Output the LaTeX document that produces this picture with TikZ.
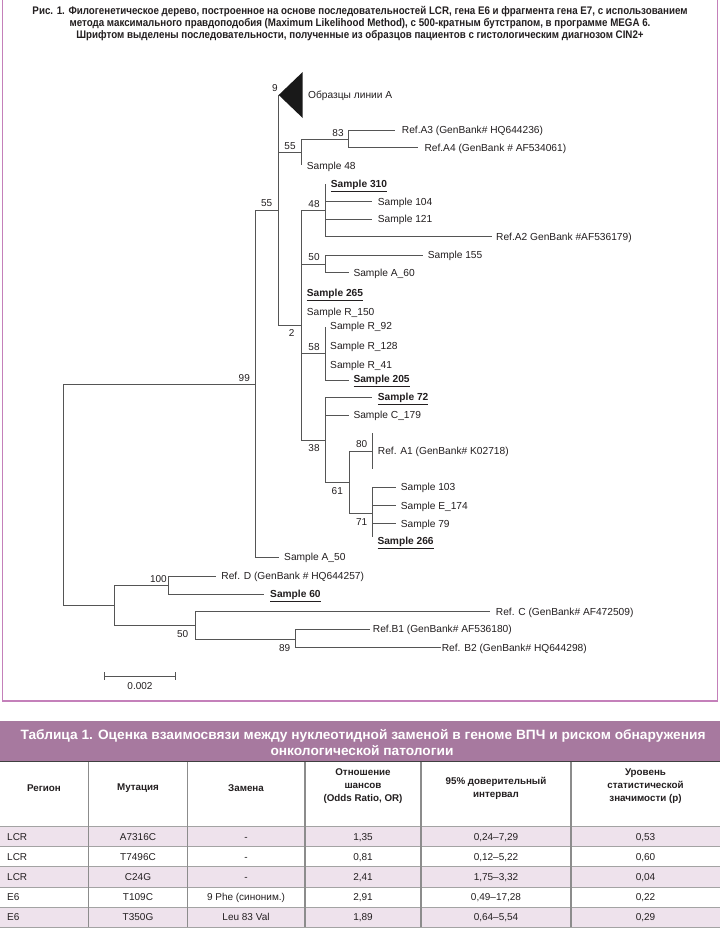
\documentclass[tikz,border=0pt]{standalone}
\usepackage{fontspec}
\setmainfont{Liberation Sans}
\usepackage{graphicx}
\definecolor{framepink}{RGB}{196,128,186}
\definecolor{hdrpurple}{RGB}{167,121,159}
\definecolor{rowpink}{RGB}{238,226,236}
\definecolor{treeline}{RGB}{85,85,85}
\definecolor{txt}{RGB}{35,31,32}
\definecolor{gridgray}{RGB}{140,140,140}
\newlength\capw
\newlength\ttlw
\newcommand\capfont{\fontsize{11}{12}\selectfont\bfseries}
\newcommand\ttlfont{\fontsize{13.5}{14}\selectfont\bfseries}
\begin{document}
\settowidth\capw{\capfont Рис. 1. Филогенетическое дерево, построенное на основе последовательностей LCR, гена E6 и фрагмента гена E7, с использованием}%
\pgfmathsetmacro\capsx{655/\capw}%
\settowidth\ttlw{\ttlfont Таблица 1. Оценка взаимосвязи между нуклеотидной заменой в геноме ВПЧ и риском обнаружения}%
\pgfmathsetmacro\ttlsx{685/\ttlw}%
\begin{tikzpicture}[x=1pt,y=-1pt,
  br/.style={draw=treeline, line width=0.9pt},
  lf/.style={anchor=west, inner sep=0pt, text=txt, font=\fontsize{10.2}{12}\selectfont, text height=7.3pt, text depth=0pt},
  blf/.style={lf, font=\fontsize{10.2}{12}\selectfont\bfseries},
  bsv/.style={inner sep=0pt, text=txt, font=\fontsize{10}{12}\selectfont, text height=7.2pt, text depth=0pt},
  capl/.style={inner sep=0pt, text=txt, text height=7.9pt, text depth=0pt},
  ttl/.style={inner sep=0pt, text=white, text height=9.7pt, text depth=0pt},
  th/.style={inner sep=0pt, text=txt, align=center, font=\fontsize{9.8}{13}\selectfont\bfseries},
  td/.style={inner sep=0pt, text=txt, font=\fontsize{10}{12}\selectfont, text height=7.2pt, text depth=0pt},
  grid/.style={draw=gridgray, line width=1.1pt},
  rowl/.style={draw=gridgray!80, line width=0.6pt}]
\useasboundingbox (0,0) rectangle (720,937);
\fill[white] (0,0) rectangle (720,937);

% ---------- frame ----------
\coordinate (fr1) at (2.5,-3);
\coordinate (fr2) at (2.5,701);
\coordinate (fr3) at (717.5,701);
\coordinate (fr4) at (717.5,-3);
\draw[framepink, line width=1.3pt] (fr1) -- (fr2) -- (fr3) -- (fr4);

% ---------- caption ----------
\node[capl] (cap1) at (360,11) {\scalebox{\capsx}[1]{\capfont Рис. 1. Филогенетическое дерево, построенное на основе последовательностей LCR, гена E6 и фрагмента гена E7, с использованием}};
\node[capl] (cap2) at (360,23) {\scalebox{\capsx}[1]{\capfont метода максимального правдоподобия (Maximum Likelihood Method), с 500-кратным бутстрапом, в программе MEGA 6.}};
\node[capl] (cap3) at (360,35) {\scalebox{\capsx}[1]{\capfont Шрифтом выделены последовательности, полученные из образцов пациентов с гистологическим диагнозом CIN2+}};

% ---------- tree coordinates ----------
\coordinate (root) at (63,494);
\coordinate (n99) at (255,384.3);
\coordinate (tA50) at (279.3,557);
\coordinate (n55a) at (278.7,210);
\coordinate (apex) at (278.7,95);
\coordinate (tri1) at (302.7,72);
\coordinate (tri2) at (302.7,118);
\coordinate (n55b) at (301.7,152.7);
\coordinate (t48) at (301.7,165);
\coordinate (n83) at (348.3,139);
\coordinate (tA3) at (395,130);
\coordinate (tA4) at (418.3,147.7);
\coordinate (n2) at (301.7,325);
\coordinate (n48) at (325.7,210);
\coordinate (t310) at (325.7,184);
\coordinate (t104) at (371.7,201.7);
\coordinate (t121) at (371.7,219.3);
\coordinate (tA2) at (491.7,236.7);
\coordinate (n50) at (325.7,264);
\coordinate (t155) at (422.7,255);
\coordinate (tA60) at (349.3,272.7);
\coordinate (t265) at (301.7,292.7);
\coordinate (tR150) at (301.7,311.7);
\coordinate (n58) at (325.7,353.3);
\coordinate (tR92) at (325.7,326.7);
\coordinate (t205) at (349.3,380);
\coordinate (n38) at (325.7,440.7);
\coordinate (t72) at (371.7,397.3);
\coordinate (tC179) at (349.3,415);
\coordinate (n61) at (349.3,482.3);
\coordinate (n80) at (372.7,451);
\coordinate (t80a) at (372.7,433.3);
\coordinate (t80b) at (372.7,469.3);
\coordinate (n71) at (372.7,513.3);
\coordinate (t103) at (395.7,487.3);
\coordinate (tE174) at (395.7,505.7);
\coordinate (t79) at (395.7,523.7);
\coordinate (t266) at (372.7,536.7);
\coordinate (nDB) at (114.8,605);
\coordinate (n100) at (168.9,585.7);
\coordinate (tD) at (215.7,576);
\coordinate (t60) at (264,594);
\coordinate (n50b) at (195,625.7);
\coordinate (tC) at (490.2,611.7);
\coordinate (n89) at (295.1,639);
\coordinate (tB1) at (369.5,629.3);
\coordinate (tB2) at (440.6,647.7);

% ---------- tree branches ----------
\draw[br] (root) |- (n99);
\draw[br] (root) |- (nDB);
\draw[br] (n99) |- (n55a);
\draw[br] (n99) |- (tA50);
\draw[br] (n55a) |- (apex);
\draw[br] (n55a) |- (n55b);
\draw[br] (n55a) |- (n2);
\draw[br] (n55b) |- (n83);
\draw[br] (n55b) |- (t48);
\draw[br] (n83) |- (tA3);
\draw[br] (n83) |- (tA4);
\draw[br] (n2) |- (n48);
\draw[br] (n2) |- (n50);
\draw[br] (n2) |- (t265);
\draw[br] (n2) |- (tR150);
\draw[br] (n2) |- (n58);
\draw[br] (n2) |- (n38);
\draw[br] (n48) |- (t310);
\draw[br] (n48) |- (t104);
\draw[br] (n48) |- (t121);
\draw[br] (n48) |- (tA2);
\draw[br] (n50) |- (t155);
\draw[br] (n50) |- (tA60);
\draw[br] (n58) |- (tR92);
\draw[br] (n58) |- (t205);
\draw[br] (n38) |- (t72);
\draw[br] (n38) |- (tC179);
\draw[br] (n38) |- (n61);
\draw[br] (n61) |- (n80);
\draw[br] (n61) |- (n71);
\draw[br] (n80) |- (t80a);
\draw[br] (n80) |- (t80b);
\draw[br] (n71) |- (t103);
\draw[br] (n71) |- (tE174);
\draw[br] (n71) |- (t79);
\draw[br] (n71) |- (t266);
\draw[br] (nDB) |- (n100);
\draw[br] (nDB) |- (n50b);
\draw[br] (n100) |- (tD);
\draw[br] (n100) |- (t60);
\draw[br] (n50b) |- (tC);
\draw[br] (n50b) |- (n89);
\draw[br] (n89) |- (tB1);
\draw[br] (n89) |- (tB2);
\fill[black!90] (apex) -- (tri1) -- (tri2) -- cycle;

% ---------- leaf labels ----------
\node[lf] (lA) at (308,95) {Образцы линии А};
\node[lf] (lA3) at (401.7,130) {Ref.A3 (GenBank\# HQ644236)};
\node[lf] (lA4) at (424.3,148) {Ref.A4 (GenBank \# AF534061)};
\node[lf] (l48) at (306.7,166) {Sample 48};
\node[blf] (l310) at (330.7,184) {\underline{Sample 310}};
\node[lf] (l104) at (377.7,201.7) {Sample 104};
\node[lf] (l121) at (377.7,219.3) {Sample 121};
\node[lf] (lA2) at (496,236.7) {Ref.A2 GenBank \#AF536179)};
\node[lf] (l155) at (427.7,255) {Sample 155};
\node[lf] (lA60) at (353.3,272.7) {Sample A\_60};
\node[blf] (l265) at (306.7,292.7) {\underline{Sample 265}};
\node[lf] (lR150) at (306.7,311.7) {Sample R\_150};
\node[lf] (lR92) at (330,325.7) {Sample R\_92};
\node[lf] (lR128) at (330,345.7) {Sample R\_128};
\node[lf] (lR41) at (330,365) {Sample R\_41};
\node[blf] (l205) at (353.3,379.3) {\underline{Sample 205}};
\node[blf] (l72) at (377.7,397.3) {\underline{Sample 72}};
\node[lf] (lC179) at (353.3,415) {Sample C\_179};
\node[lf] (lA1) at (377.7,451) {Ref. A1 (GenBank\# K02718)};
\node[lf] (l103) at (400.7,487.3) {Sample 103};
\node[lf] (lE174) at (400.7,505.7) {Sample E\_174};
\node[lf] (l79) at (400.7,523.7) {Sample 79};
\node[blf] (l266) at (377.3,541) {\underline{Sample 266}};
\node[lf] (lA50) at (284,557) {Sample A\_50};
\node[lf] (lD) at (221.2,576) {Ref. D (GenBank \# HQ644257)};
\node[blf] (l60) at (270,594) {\underline{Sample 60}};
\node[lf] (lC) at (495.7,611.7) {Ref. C (GenBank\# AF472509)};
\node[lf] (lB1) at (372.7,629.3) {Ref.B1 (GenBank\# AF536180)};
\node[lf] (lB2) at (441.6,647.7) {Ref. B2 (GenBank\# HQ644298)};

% ---------- bootstrap values ----------
\node[bsv] (b9) at (275,88.3) {9};
\node[bsv] (b83) at (338,132.7) {83};
\node[bsv] (b55b) at (290,146) {55};
\node[bsv] (b55a) at (266.7,203.3) {55};
\node[bsv] (b48) at (314,204) {48};
\node[bsv] (b50) at (314,257.3) {50};
\node[bsv] (b2) at (291.7,333.3) {2};
\node[bsv] (b58) at (314,346.7) {58};
\node[bsv] (b99) at (244.3,377.7) {99};
\node[bsv] (b38) at (314,448.3) {38};
\node[bsv] (b80) at (361.7,444.3) {80};
\node[bsv] (b61) at (337.3,491) {61};
\node[bsv] (b71) at (361.7,522.3) {71};
\node[bsv] (b100) at (158.4,579.3) {100};
\node[bsv] (b50b) at (182.7,634.3) {50};
\node[bsv] (b89) at (284.6,647.7) {89};

% ---------- scale bar ----------
\coordinate (sb1) at (104.7,676);
\coordinate (sb2) at (175.3,676);
\draw[br] (sb1) -- (sb2);
\draw[br] (sb1) ++(0,-4) -- ++(0,8);
\draw[br] (sb2) ++(0,-4) -- ++(0,8);
\node[bsv] (sbl) at (140,686) {0.002};

% ---------- table ----------
\fill[hdrpurple] (0,721) rectangle (720,761);
\node[ttl] (ttl1) at (363,734.5) {\scalebox{\ttlsx}[1]{\ttlfont Таблица 1. Оценка взаимосвязи между нуклеотидной заменой в геноме ВПЧ и риском обнаружения}};
\node[ttl] (ttl2) at (362,750.5) {\scalebox{\ttlsx}[1]{\ttlfont онкологической патологии}};

\fill[rowpink] (0,826.5) rectangle (720,846.6);
\fill[rowpink] (0,866.7) rectangle (720,886.8);
\fill[rowpink] (0,906.9) rectangle (720,927);
\foreach \yy in {826.5,846.6,866.7,886.8,906.9,927}
  \draw[rowl] (0,\yy) -- (720,\yy);
\foreach \xx in {88.5,187.5,305,421,571}
  \draw[grid] (\xx,761) -- (\xx,927);
\draw[draw=black!75, line width=1.6pt] (0,761.5) -- (720,761.5);

\node[th] (h1) at (44,788) {Регион};
\node[th] (h2) at (138,788) {Мутация};
\node[th] (h3) at (246,788) {Замена};
\node[th] (h4) at (363,786) {Отношение\\шансов\\(Odds Ratio, OR)};
\node[th] (h5) at (496,788) {95\% доверительный\\интервал};
\node[th] (h6) at (645.5,786) {Уровень\\статистической\\значимости (p)};

\node[td, anchor=west] (r1c1) at (7,836.5) {LCR};
\node[td] (r1c2) at (138,836.5) {A7316C};
\node[td] (r1c3) at (246,836.5) {-};
\node[td] (r1c4) at (363,836.5) {1,35};
\node[td] (r1c5) at (496,836.5) {0,24–7,29};
\node[td] (r1c6) at (645.5,836.5) {0,53};

\node[td, anchor=west] (r2c1) at (7,856.6) {LCR};
\node[td] (r2c2) at (138,856.6) {T7496C};
\node[td] (r2c3) at (246,856.6) {-};
\node[td] (r2c4) at (363,856.6) {0,81};
\node[td] (r2c5) at (496,856.6) {0,12–5,22};
\node[td] (r2c6) at (645.5,856.6) {0,60};

\node[td, anchor=west] (r3c1) at (7,876.7) {LCR};
\node[td] (r3c2) at (138,876.7) {C24G};
\node[td] (r3c3) at (246,876.7) {-};
\node[td] (r3c4) at (363,876.7) {2,41};
\node[td] (r3c5) at (496,876.7) {1,75–3,32};
\node[td] (r3c6) at (645.5,876.7) {0,04};

\node[td, anchor=west] (r4c1) at (7,896.8) {E6};
\node[td] (r4c2) at (138,896.8) {T109C};
\node[td] (r4c3) at (246,896.8) {9 Phe (синоним.)};
\node[td] (r4c4) at (363,896.8) {2,91};
\node[td] (r4c5) at (496,896.8) {0,49–17,28};
\node[td] (r4c6) at (645.5,896.8) {0,22};

\node[td, anchor=west] (r5c1) at (7,917) {E6};
\node[td] (r5c2) at (138,917) {T350G};
\node[td] (r5c3) at (246,917) {Leu 83 Val};
\node[td] (r5c4) at (363,917) {1,89};
\node[td] (r5c5) at (496,917) {0,64–5,54};
\node[td] (r5c6) at (645.5,917) {0,29};
\end{tikzpicture}
\end{document}
